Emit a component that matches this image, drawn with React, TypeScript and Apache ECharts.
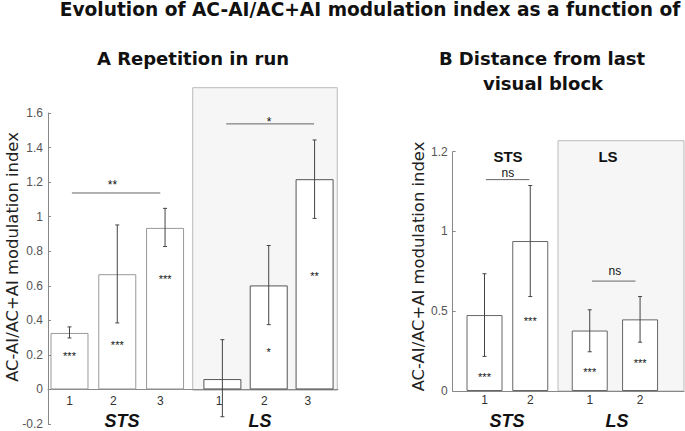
import React, { useEffect, useRef } from "react";
import * as echarts from "echarts";

// ---------- Panel A: Repetition in run ----------
const groupsA = ["STS", "STS", "STS", "LS", "LS", "LS"];
const xA = [1, 2, 3, 4.2, 5.17, 6.13];
const tickPosA = [1, 1.92, 2.9, 4.13, 5.08, 5.99];
const tickLabelsA = ["1", "2", "3", "1", "2", "3"];
const meanA = [0.327, 0.667, 0.935, 0.06, 0.602, 1.217];
const lowA = [0.298, 0.385, 0.827, -0.158, 0.375, 0.99];
const highA = [0.362, 0.952, 1.048, 0.288, 0.833, 1.444];
const starsA = ["***", "***", "***", "", "*", "**"];
const starYA = [0.192, 0.256, 0.637, 0, 0.217, 0.654];
// significance brackets: [x1, x2, y, labelX, labelY, text]
const sigA: [number, number, number, number, number, string][] = [
  [1.05, 2.9, 1.137, 1.9, 1.185, "**"],
  [4.28, 6.12, 1.537, 5.18, 1.55, "*"],
];
const yMinA = -0.2;
const yMaxA = 1.6;

// ---------- Panel B: Distance from last visual block ----------
const groupsB = ["STS", "STS", "LS", "LS"];
const xB = [1, 2, 3.3, 4.4];
const tickLabelsB = ["1", "2", "1", "2"];
const meanB = [0.476, 0.94, 0.379, 0.449];
const lowB = [0.217, 0.592, 0.246, 0.306];
const highB = [0.735, 1.288, 0.509, 0.592];
const starsB = ["***", "***", "***", "***"];
const starYB = [0.089, 0.437, 0.116, 0.178];
const sigB: [number, number, number, number, number, string][] = [
  [1.03, 1.98, 1.325, 1.51, 1.365, "ns"],
  [3.35, 4.3, 0.689, 3.85, 0.75, "ns"],
];
// y tick values and the labels printed at them in the original figure
const yTicksB = [0, 0.5, 1, 1.5];
const yTickLabelsB = ["0", "0.5", "1", "1.2"];

const SANS = "'Liberation Sans', Arial, sans-serif";
const VERD = "'DejaVu Sans', Verdana, sans-serif";

function errRender(params: any, api: any) {
  const x = api.value(0);
  const lo = api.coord([x, api.value(1)]);
  const hi = api.coord([x, api.value(2)]);
  const c = 2;
  const st = { stroke: "#444", lineWidth: 1 };
  return {
    type: "group",
    children: [
      { type: "line", shape: { x1: lo[0], y1: lo[1], x2: hi[0], y2: hi[1] }, style: st },
      { type: "line", shape: { x1: lo[0] - c, y1: lo[1], x2: lo[0] + c, y2: lo[1] }, style: st },
      { type: "line", shape: { x1: hi[0] - c, y1: hi[1], x2: hi[0] + c, y2: hi[1] }, style: st },
    ],
  };
}

function textRender(size: number) {
  return (params: any, api: any) => {
    const p = api.coord([api.value(0), api.value(1)]);
    return {
      type: "text",
      x: p[0],
      y: p[1],
      style: {
        text: String(api.value(2)),
        fill: "#111",
        fontSize: size,
        fontFamily: SANS,
        align: "center",
        verticalAlign: "middle",
      },
    };
  };
}

function sigRender(params: any, api: any) {
  const a = api.coord([api.value(0), api.value(2)]);
  const b = api.coord([api.value(1), api.value(2)]);
  const l = api.coord([api.value(3), api.value(4)]);
  return {
    type: "group",
    children: [
      { type: "line", shape: { x1: a[0], y1: a[1], x2: b[0], y2: b[1] }, style: { stroke: "#666", lineWidth: 1 } },
      {
        type: "text",
        x: l[0],
        y: l[1],
        style: {
          text: String(api.value(5)),
          fill: "#111",
          fontSize: 12,
          fontFamily: SANS,
          align: "center",
          verticalAlign: "middle",
        },
      },
    ],
  };
}

export default function App() {
  const ref = useRef<HTMLDivElement>(null);
  useEffect(() => {
    if (!ref.current) return;
    const chart = echarts.init(ref.current, undefined, { renderer: "svg" });

    const gridA = { left: 48, top: 113, width: 290, height: 311 };
    // pixel distance from the grid bottom (y = -0.2) up to y = 0
    const zeroOffsetA = (gridA.height * (0 - yMinA)) / (yMaxA - yMinA);

    const yAxisCommon = {
      type: "value" as const,
      axisLine: { show: true, onZero: false, lineStyle: { color: "#888", width: 1 } },
      axisTick: { show: true, inside: true, length: 3, lineStyle: { color: "#888" } },
      splitLine: { show: false },
      axisLabel: { color: "#555", fontSize: 12, lineHeight: 12, fontFamily: SANS, margin: 5 },
    };

    const option: any = {
      animation: false,
      backgroundColor: "#fff",
      grid: [
        { ...gridA, containLabel: false, outerBoundsMode: "none" },
        { left: 452.7, top: 151.7, width: 231.3, height: 239.3, containLabel: false, outerBoundsMode: "none" },
      ],
      xAxis: [
        {
          type: "value",
          gridIndex: 0,
          min: 0.55,
          max: 6.62,
          position: "bottom",
          offset: -zeroOffsetA,
          axisLine: { show: true, onZero: false, lineStyle: { color: "#888" } },
          axisTick: { show: true, inside: true, length: 2, customValues: tickPosA, lineStyle: { color: "#888" } },
          splitLine: { show: false },
          axisLabel: {
            customValues: tickPosA,
            color: "#333",
            fontSize: 12,
            fontFamily: SANS,
            margin: 6,
            formatter: (v: number) => {
              const i = tickPosA.findIndex((t) => Math.abs(t - v) < 1e-6);
              return i >= 0 ? tickLabelsA[i] : "";
            },
          },
        },
        {
          type: "value",
          gridIndex: 1,
          min: 0.305,
          max: 5.36,
          position: "bottom",
          axisLine: { show: true, onZero: false, lineStyle: { color: "#888" } },
          axisTick: { show: true, inside: true, length: 2, customValues: xB, lineStyle: { color: "#888" } },
          splitLine: { show: false },
          axisLabel: {
            customValues: xB,
            color: "#333",
            fontSize: 12,
            fontFamily: SANS,
            margin: 3,
            formatter: (v: number) => {
              const i = xB.findIndex((t) => Math.abs(t - v) < 1e-6);
              return i >= 0 ? tickLabelsB[i] : "";
            },
          },
        },
      ],
      yAxis: [
        { ...yAxisCommon, gridIndex: 0, min: yMinA, max: yMaxA, interval: 0.2 },
        {
          ...yAxisCommon,
          gridIndex: 1,
          min: 0,
          max: 1.5,
          interval: 0.5,
          axisLabel: {
            ...yAxisCommon.axisLabel,
            formatter: (v: number) => {
              const i = yTicksB.findIndex((t) => Math.abs(t - v) < 1e-6);
              return i >= 0 ? yTickLabelsB[i] : "";
            },
          },
        },
      ],
      graphic: [
        // shaded LS regions
        { type: "rect", z: -10, shape: { x: 192.7, y: 87.7, width: 144.6, height: 302.5 }, style: { fill: "#f6f6f6", stroke: "#bbb", lineWidth: 1 } },
        { type: "rect", z: -10, shape: { x: 558, y: 140.7, width: 126, height: 250.3 }, style: { fill: "#f6f6f6", stroke: "#bbb", lineWidth: 1 } },
        // titles
        { type: "text", x: 370, y: 9.5, style: { text: "Evolution of AC-AI/AC+AI modulation index as a function of", fill: "#111", fontSize: 18.6, fontWeight: "bold", fontFamily: VERD, align: "center", verticalAlign: "middle" } },
        { type: "text", x: 193, y: 58, style: { text: "A Repetition in run", fill: "#111", fontSize: 18, fontWeight: "bold", fontFamily: VERD, align: "center", verticalAlign: "middle" } },
        { type: "text", x: 542, y: 58, style: { text: "B Distance from last", fill: "#111", fontSize: 18, fontWeight: "bold", fontFamily: VERD, align: "center", verticalAlign: "middle" } },
        { type: "text", x: 543, y: 83, style: { text: "visual block", fill: "#111", fontSize: 18, fontWeight: "bold", fontFamily: VERD, align: "center", verticalAlign: "middle" } },
        // y-axis names
        { type: "text", x: 12, y: 257, rotation: Math.PI / 2, style: { text: "AC-AI/AC+AI modulation index", fill: "#222", fontSize: 16.4, fontFamily: VERD, align: "center", verticalAlign: "middle" } },
        { type: "text", x: 418.5, y: 266.5, rotation: Math.PI / 2, style: { text: "AC-AI/AC+AI modulation index", fill: "#222", fontSize: 16.4, fontFamily: VERD, align: "center", verticalAlign: "middle" } },
        // group labels under axes
        { type: "text", x: 122, y: 421, style: { text: groupsA[0], fill: "#111", fontSize: 18, fontWeight: "bold", fontStyle: "italic", fontFamily: SANS, align: "center", verticalAlign: "middle" } },
        { type: "text", x: 260, y: 421, style: { text: groupsA[3], fill: "#111", fontSize: 18, fontWeight: "bold", fontStyle: "italic", fontFamily: SANS, align: "center", verticalAlign: "middle" } },
        { type: "text", x: 507, y: 421, style: { text: groupsB[0], fill: "#111", fontSize: 18, fontWeight: "bold", fontStyle: "italic", fontFamily: SANS, align: "center", verticalAlign: "middle" } },
        { type: "text", x: 617, y: 421, style: { text: groupsB[2], fill: "#111", fontSize: 18, fontWeight: "bold", fontStyle: "italic", fontFamily: SANS, align: "center", verticalAlign: "middle" } },
        // in-plot group labels (panel B)
        { type: "text", x: 508, y: 156, style: { text: groupsB[0], fill: "#111", fontSize: 15, fontWeight: "bold", fontFamily: SANS, align: "center", verticalAlign: "middle" } },
        { type: "text", x: 608, y: 156, style: { text: groupsB[2], fill: "#111", fontSize: 15, fontWeight: "bold", fontFamily: SANS, align: "center", verticalAlign: "middle" } },
      ],
      series: [
        {
          type: "bar",
          xAxisIndex: 0,
          yAxisIndex: 0,
          barWidth: 38,
          data: xA.map((x, i) => ({
            value: [x, meanA[i]],
            itemStyle: { color: "#fff", borderColor: groupsA[i] === "STS" ? "#999" : "#555", borderWidth: 1 },
          })),
        },
        {
          type: "custom",
          xAxisIndex: 0,
          yAxisIndex: 0,
          clip: false,
          renderItem: errRender,
          encode: { x: 0, y: [1, 2] },
          data: xA.map((x, i) => [x, lowA[i], highA[i]]),
          z: 5,
        },
        {
          type: "custom",
          xAxisIndex: 0,
          yAxisIndex: 0,
          clip: false,
          renderItem: textRender(11),
          encode: { x: 0, y: 1 },
          data: xA.map((x, i) => [x, starYA[i], starsA[i]]).filter((d) => d[2] !== ""),
          z: 6,
        },
        {
          type: "custom",
          xAxisIndex: 0,
          yAxisIndex: 0,
          clip: false,
          renderItem: sigRender,
          encode: { x: [0, 1], y: 2 },
          data: sigA,
          z: 6,
        },
        {
          type: "bar",
          xAxisIndex: 1,
          yAxisIndex: 1,
          barWidth: 36,
          data: xB.map((x, i) => ({
            value: [x, meanB[i]],
            itemStyle: { color: "#fff", borderColor: "#666", borderWidth: 1 },
          })),
        },
        {
          type: "custom",
          xAxisIndex: 1,
          yAxisIndex: 1,
          clip: false,
          renderItem: errRender,
          encode: { x: 0, y: [1, 2] },
          data: xB.map((x, i) => [x, lowB[i], highB[i]]),
          z: 5,
        },
        {
          type: "custom",
          xAxisIndex: 1,
          yAxisIndex: 1,
          clip: false,
          renderItem: textRender(11),
          encode: { x: 0, y: 1 },
          data: xB.map((x, i) => [x, starYB[i], starsB[i]]),
          z: 6,
        },
        {
          type: "custom",
          xAxisIndex: 1,
          yAxisIndex: 1,
          clip: false,
          renderItem: sigRender,
          encode: { x: [0, 1], y: 2 },
          data: sigB,
          z: 6,
        },
      ],
    };
    chart.setOption(option);
    return () => chart.dispose();
  }, []);
  return (
    <div
      ref={ref}
      style={{ position: "fixed", left: 0, top: 0, width: 685, height: 431, background: "#fff" }}
    />
  );
}
